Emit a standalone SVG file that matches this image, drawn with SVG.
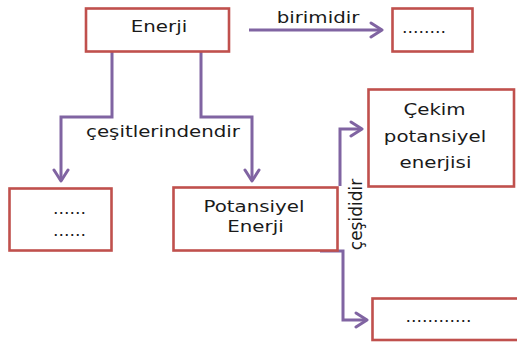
<svg xmlns="http://www.w3.org/2000/svg" width="517" height="342" viewBox="0 0 517 342">
<style>
.box{fill:#fff;stroke:#C0504D;stroke-width:2.6}
.t{font-family:"DejaVu Sans",Verdana,sans-serif;font-size:16.5px;fill:#1a1a1a;text-anchor:middle}
.c{fill:none;stroke:#8064A2;stroke-width:3;stroke-linejoin:miter}
</style>
<defs>
<marker id="ah" viewBox="-13 -9 15 18" refX="0" refY="0" markerWidth="15" markerHeight="18" markerUnits="userSpaceOnUse" orient="auto">
<path d="M-11,-7 L0,0 L-11,7" fill="none" stroke="#8064A2" stroke-width="3" stroke-linejoin="round" stroke-linecap="round"/>
</marker>
</defs>
<rect width="517" height="342" fill="#fff"/>
<g id="connectors">
<path class="c" d="M249,30 H382" marker-end="url(#ah)"/>
<path class="c" d="M112,52 V117 H61 V181" marker-end="url(#ah)"/>
<path class="c" d="M201,52 V117 H252 V181" marker-end="url(#ah)"/>
<path class="c" d="M340,186 V129 H362" marker-end="url(#ah)"/>
<path class="c" d="M320,251 H343 V320 H367" marker-end="url(#ah)"/>
<text class="t" transform="translate(318,23) scale(1.2,1)">birimidir</text>
<text class="t" transform="translate(163,137) scale(1.2,1)">çeşitlerindendir</text>
<text class="t" style="font-size:17px" transform="translate(362,214.5) rotate(-90)">çeşididir</text>
</g>
<g id="enerji">
<rect class="box" x="86" y="8.5" width="143" height="43"/>
<text class="t" transform="translate(159,32) scale(1.2,1)">Enerji</text>
</g>
<g id="birim">
<rect class="box" x="392.5" y="8.5" width="80" height="43"/>
<text class="t" transform="translate(424,33) scale(1.05,1)">........</text>
</g>
<g id="kinetik">
<rect class="box" x="9.5" y="188.5" width="102" height="62"/>
<text class="t" transform="translate(69.5,214) scale(1.05,1)">......</text>
<text class="t" transform="translate(69.5,236) scale(1.05,1)">......</text>
</g>
<g id="potansiyel">
<rect class="box" x="173.5" y="187.5" width="164" height="63"/>
<text class="t" transform="translate(254,212) scale(1.2,1)">Potansiyel</text>
<text class="t" transform="translate(255.5,232) scale(1.2,1)">Enerji</text>
</g>
<g id="cekim">
<rect class="box" x="368.5" y="89.5" width="145.5" height="97"/>
<text class="t" transform="translate(434.5,115) scale(1.2,1)">Çekim</text>
<text class="t" transform="translate(435,142) scale(1.2,1)">potansiyel</text>
<text class="t" transform="translate(435.5,168) scale(1.2,1)">enerjisi</text>
</g>
<g id="diger">
<rect class="box" x="372.5" y="298.5" width="160" height="41.5"/>
<text class="t" transform="translate(438.5,322) scale(1.05,1)">............</text>
</g>
</svg>
